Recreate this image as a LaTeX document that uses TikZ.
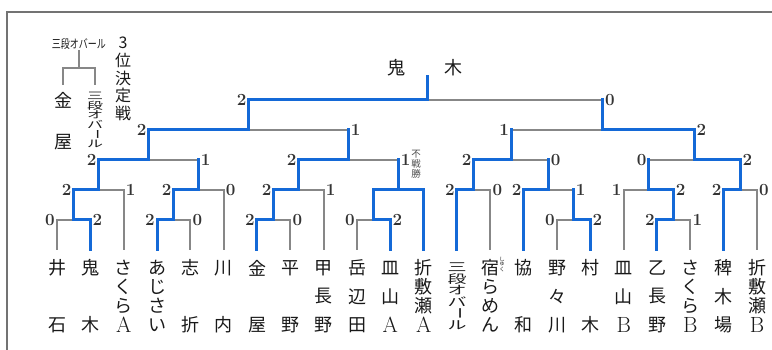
\documentclass[tikz,border=0pt]{standalone}
\usepackage{fontspec}
\usepackage{graphicx}
\newfontfamily\jp{Noto Sans CJK JP}
\definecolor{winblue}{RGB}{20,105,215}
\definecolor{losegray}{RGB}{135,135,135}
\definecolor{framegray}{RGB}{115,115,115}
\newcommand\scorefont{\fontsize{17}{17}\selectfont\bfseries}
\newcommand\sq[1]{\scalebox{1}[0.62]{#1}}
\newcommand\lat[1]{{\rmfamily\fontsize{22}{22}\selectfont #1}}
% vertical text: [node options]{name}{x}{first y}{step}{chars}
\newcommand\tate[6][]{\foreach \c [count=\i from 0] in {#6} {\node[jp,#1] (#2-\i) at (#3,{#4+\i*#5}) {\c};}}
% scores left/right of a match
\newcommand\scores[5]{\node[score,anchor=east,xshift=-2pt] (#1-l) at (#2 |- #1) {#4};
  \node[score,anchor=west,xshift=2pt] (#1-r) at (#3 |- #1) {#5};}
\tikzset{
  win/.style={draw=winblue, line width=3pt, line cap=rect},
  lose/.style={draw=losegray, line width=2pt},
  thirdline/.style={draw=losegray, line width=1.6pt},
  frame/.style={draw=framegray, line width=1.4pt},
  jp/.style={font=\jp\fontsize{18}{20}\selectfont, inner sep=0pt, text=black!90},
  score/.style={font=\scorefont, inner sep=0pt, text=black!80}
}
\begin{document}
\begin{tikzpicture}[x=1pt,y=-1pt]
\useasboundingbox (0,0) rectangle (772,350);
\draw[frame] (7,350) -- (7,12) -- (772,12);

% leaf tops
\foreach \k in {1,...,22} \coordinate (p\k) at ({57+(\k-1)*33.333},250);

% match points
\coordinate (m1) at (73.7,220);  \coordinate (m2) at (98.7,190);
\coordinate (m3) at (173.7,220); \coordinate (m4) at (198.7,190);
\coordinate (m5) at (148.7,160);
\coordinate (m6) at (273.7,220); \coordinate (m7) at (298.7,190);
\coordinate (m8) at (373.7,220); \coordinate (m9) at (398.7,190);
\coordinate (m10) at (348.7,160);
\coordinate (m11) at (248.7,130);
\coordinate (r1) at (473.7,190);
\coordinate (r2) at (573.7,220); \coordinate (r3) at (548.7,190);
\coordinate (r4) at (511.2,160);
\coordinate (r6) at (673.7,220); \coordinate (r5) at (648.7,190);
\coordinate (r7) at (740.3,190);
\coordinate (r8) at (694.5,160);
\coordinate (r9) at (602.8,130);
\coordinate (fin) at (427,100);

\node[jp] (winner) at (425,68) {鬼\hspace{40pt}木};

% 1回戦
\draw[lose] (p1) |- (m1);  \draw[win] (p2) |- (m1);
\draw[lose] (p5) |- (m3);  \draw[win] (p4) |- (m3);
\draw[lose] (p8) |- (m6);  \draw[win] (p7) |- (m6);
\draw[lose] (p10) |- (m8); \draw[win] (p11) |- (m8);
\draw[lose] (p16) |- (r2); \draw[win] (p17) |- (r2);
\draw[lose] (p20) |- (r6); \draw[win] (p19) |- (r6);
% 2回戦
\draw[lose] (p3) |- (m2);  \draw[win] (m1) |- (m2);
\draw[lose] (p6) |- (m4);  \draw[win] (m3) |- (m4);
\draw[lose] (p9) |- (m7);  \draw[win] (m6) |- (m7);
\draw[win] (m8) |- (m9) (p12) |- (m9);%不戦勝
\draw[lose] (p14) |- (r1); \draw[win] (p13) |- (r1);
\draw[lose] (r2) |- (r3);  \draw[win] (p15) |- (r3) (r2) -- (r2 |- r3);
\draw[lose] (p18) |- (r5); \draw[win] (r6) |- (r5);
\draw[lose] (p22) |- (r7); \draw[win] (p21) |- (r7);
% 3回戦
\draw[lose] (m4) |- (m5);  \draw[win] (m2) |- (m5) (m4) -- (m4 |- m5);
\draw[lose] (m9) |- (m10); \draw[win] (m7) |- (m10) (m9) -- (m9 |- m10);
\draw[lose] (r3) |- (r4);  \draw[win] (r1) |- (r4) (r3) -- (r3 |- r4);
\draw[lose] (r5) |- (r8);  \draw[win] (r7) |- (r8) (r5) -- (r5 |- r8);
% 準決勝
\draw[lose] (m10) |- (m11); \draw[win] (m5) |- (m11) (m10) -- (m10 |- m11);
\draw[lose] (r4) |- (r9);   \draw[win] (r8) |- (r9) (r4) -- (r4 |- r9);
% 決勝
\draw[lose] (r9) |- (fin);
\draw[win] (m11) |- (fin) (r9) -- (r9 |- fin) (fin) -- (fin |- winner.south);

% scores
\scores{m1}{p1}{p2}{0}{2}     \scores{m3}{p4}{p5}{2}{0}
\scores{m6}{p7}{p8}{2}{0}     \scores{m8}{p10}{p11}{0}{2}
\scores{r2}{p16}{p17}{0}{2}   \scores{r6}{p19}{p20}{2}{1}
\scores{m2}{m1}{p3}{2}{1}     \scores{m4}{m3}{p6}{2}{0}
\scores{m7}{m6}{p9}{2}{1}     \scores{r1}{p13}{p14}{2}{0}
\scores{r3}{p15}{r2}{2}{1}    \scores{r5}{p18}{r6}{1}{2}
\scores{r7}{p21}{p22}{2}{0}
\scores{m5}{m2}{m4}{2}{1}     \scores{m10}{m7}{m9}{2}{1}
\scores{r4}{r1}{r3}{2}{0}     \scores{r8}{r5}{r7}{0}{2}
\scores{m11}{m5}{m10}{2}{1}   \scores{r9}{r4}{r8}{1}{2}
\scores{fin}{m11}{r9}{2}{0}
\tate[font=\jp\fontsize{9.5}{10}\selectfont, text=black!70]{fusen}{416}{154}{10}{不,戦,勝}

% names
\tate{p1}{57}{268}{57}{井,石}
\tate{p2}{90.3}{268}{57}{鬼,木}
\tate{p3}{123.7}{268}{19}{さ,く,ら,\lat{A}}
\tate{p4}{157}{268}{19}{あ,じ,さ,い}
\tate{p5}{190.3}{268}{57}{志,折}
\tate{p6}{223.7}{268}{57}{川,内}
\tate{p7}{257}{268}{57}{金,屋}
\tate{p8}{290.3}{268}{57}{平,野}
\tate{p9}{323.7}{268}{28.5}{甲,長,野}
\tate{p10}{357}{268}{28.5}{岳,辺,田}
\tate{p11}{390.3}{268}{28.5}{皿,山,\lat{A}}
\tate{p12}{423.7}{268}{19}{折,敷,瀬,\lat{A}}
\tate[font=\jp\fontsize{19}{20}\selectfont]{p13}{457}{267}{11.6}{\sq{三},\sq{段},\sq{オ},\sq{バ},\sq{\rotatebox{-90}{ー}},\sq{ル}}
\tate{p14}{490.3}{268}{19}{宿,ら,め,ん}
\tate[font=\jp\fontsize{5.5}{6}\selectfont]{ruby}{502}{259}{5}{し,ゅ,く}
\tate{p15}{523.7}{268}{57}{協,和}
\tate{p16}{557}{268}{28.5}{野,々,川}
\tate{p17}{590.3}{268}{57}{村,木}
\tate{p18}{623.7}{268}{28.5}{皿,山,\lat{B}}
\tate{p19}{657}{268}{28.5}{乙,長,野}
\tate{p20}{690.3}{268}{19}{さ,く,ら,\lat{B}}
\tate{p21}{723.7}{268}{28.5}{稗,木,場}
\tate{p22}{757}{268}{19}{折,敷,瀬,\lat{B}}

% 3位決定戦
\node[jp,font=\jp\fontsize{12}{13}\selectfont] (third) at (79,44) {\scalebox{0.75}[1]{三段オバール}};
\coordinate (q1) at (63,85); \coordinate (q2) at (95,85); \coordinate (q3) at (79,68);
\draw[thirdline] (q1) |- (q3) -| (q2);
\draw[thirdline] (q3) -- (third.south);
\tate{kanaya}{63}{100}{42}{金,屋}
\tate[font=\jp\fontsize{16}{17}\selectfont]{sandan}{95}{96}{9.5}{\sq{三},\sq{段},\sq{オ},\sq{バ},\sq{\rotatebox{-90}{ー}},\sq{ル}}
\tate[font=\jp\fontsize{16}{17}\selectfont]{kettei}{123}{43}{17.5}{3,位,決,定,戦}
\end{tikzpicture}
\end{document}
